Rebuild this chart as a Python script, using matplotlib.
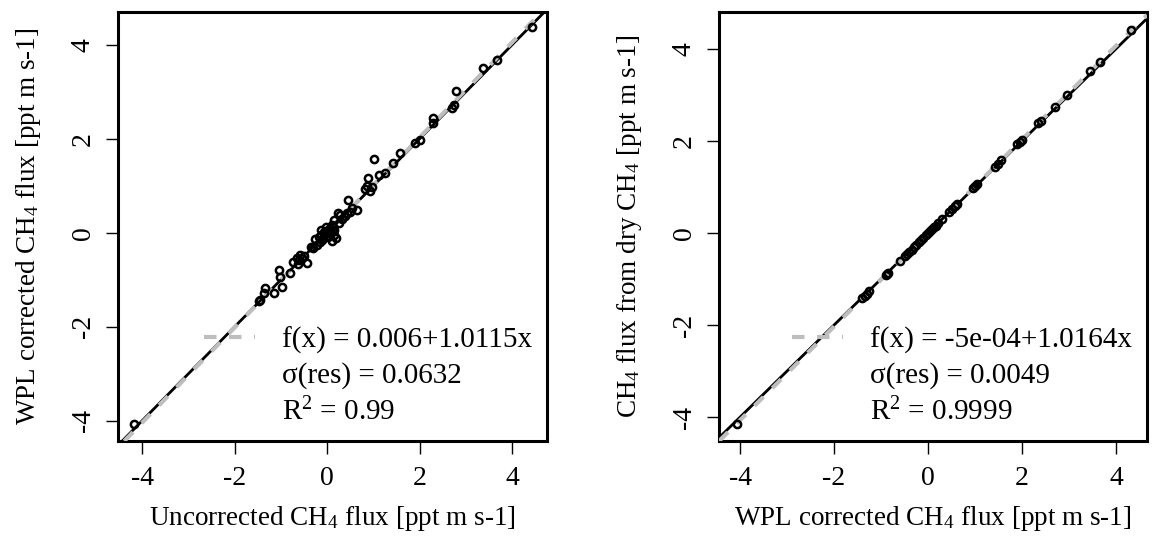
import matplotlib
matplotlib.use('Agg')
import matplotlib.pyplot as plt
from matplotlib.lines import Line2D

plt.rcParams['font.family'] = ['Liberation Serif', 'DejaVu Serif']
plt.rcParams['mathtext.fontset'] = 'custom'
plt.rcParams['mathtext.rm'] = 'Liberation Serif'
plt.rcParams['mathtext.it'] = 'Liberation Serif:italic'
plt.rcParams['mathtext.bf'] = 'Liberation Serif:bold'
plt.rcParams['axes.unicode_minus'] = False

# left panel: uncorrected vs WPL corrected
unc_x = [-4.17, -1.48, -1.45, -1.37, -1.35, -1.15, -0.98, -1.03, -1.02, -0.80,
         -0.74, -0.65, -0.60, -0.58, -0.55, -0.50, -0.43, -0.62, -0.35, -0.30,
         -0.25, -0.22, -0.18, -0.15, -0.12, -0.12, -0.10, -0.09, -0.06, -0.04,
         -0.02, -0.01, 0.00, 0.02, 0.03, 0.05, 0.06, 0.08, 0.10, 0.10,
         0.12, 0.14, 0.16, 0.16, 0.19, 0.23, 0.25, 0.29, 0.33, 0.38,
         0.43, 0.46, 0.50, 0.55, 0.64, 0.83, 0.86, 0.89, 0.92, 0.97,
         1.02, 1.13, 1.25, 1.43, 1.58, 1.90, 2.00, 2.29, 2.30, 2.70,
         2.75, 2.79, 3.37, 3.67, 4.43]
wpl_y = [-4.06, -1.46, -1.43, -1.28, -1.18, -1.28, -1.16, -0.80, -0.93, -0.85,
         -0.61, -0.54, -0.58, -0.47, -0.54, -0.50, -0.64, -0.66, -0.30, -0.32,
         -0.14, -0.25, -0.08, -0.20, -0.04, 0.06, -0.15, -0.11, 0.02, -0.01,
         0.13, -0.06, 0.03, 0.06, -0.08, -0.01, 0.10, 0.02, 0.17, -0.18,
         0.05, -0.04, 0.06, 0.28, -0.11, 0.42, 0.20, 0.37, 0.30, 0.36,
         0.42, 0.70, 0.45, 0.52, 0.49, 0.93, 1.00, 1.16, 0.90, 0.97,
         1.57, 1.24, 1.27, 1.48, 1.71, 1.91, 1.98, 2.44, 2.33, 2.65,
         2.72, 3.01, 3.50, 3.68, 4.38]

# right panel: WPL corrected vs dry CH4
wpl_x = [-4.07, -1.40, -1.35, -1.30, -1.25, -0.90, -0.88, -0.85, -0.60, -0.50,
         -0.45, -0.40, -0.35, -0.30, -0.25, -0.20, -0.15, -0.10, -0.05, 0.00,
         0.04, 0.08, 0.12, 0.16, 0.22, 0.30, 0.45, 0.52, 0.58, 0.62,
         0.95, 1.00, 1.05, 1.42, 1.48, 1.55, 1.90, 1.95, 2.00, 2.35,
         2.40, 2.70, 2.95, 3.45, 3.66, 4.33]
dry_y = [-4.14, -1.42, -1.37, -1.32, -1.27, -0.91, -0.90, -0.86, -0.61, -0.51,
         -0.46, -0.41, -0.36, -0.30, -0.26, -0.20, -0.15, -0.10, -0.05, 0.00,
         0.04, 0.08, 0.12, 0.16, 0.22, 0.30, 0.46, 0.53, 0.59, 0.63,
         0.97, 1.02, 1.07, 1.44, 1.50, 1.58, 1.93, 1.98, 2.03, 2.39,
         2.44, 2.74, 3.00, 3.51, 3.72, 4.40]

fits = [(0.006, 1.0115), (-5e-04, 1.0164)]
fit_text = [['f(x) = 0.006+1.0115x', 'σ(res) = 0.0632', 'R$^2$ = 0.99'],
            ['f(x) = -5e-04+1.0164x', 'σ(res) = 0.0049', 'R$^2$ = 0.9999']]
xlabels = ['Uncorrected CH$_4$ flux [ppt m s-1]', 'WPL corrected CH$_4$ flux [ppt m s-1]']
ylabels = ['WPL corrected CH$_4$ flux [ppt m s-1]', 'CH$_4$ flux from dry CH$_4$ [ppt m s-1]']
ticks = [-4, -2, 0, 2, 4]
xlims = [(-4.52, 4.76), (-4.45, 4.66)]
ylims = [(-4.43, 4.70), (-4.52, 4.80)]

fig = plt.figure(figsize=(11.54, 5.43), dpi=100)
ax1 = fig.add_axes([0.1023, 0.1878, 0.3718, 0.790])
ax2 = fig.add_axes([0.623, 0.1878, 0.3709, 0.790])

grey = '#BEBEBE'
data = [(unc_x, wpl_y), (wpl_x, dry_y)]
for i, ax in enumerate([ax1, ax2]):
    xs, ys = data[i]
    a, b = fits[i]
    # 1:1 line and regression line
    ax.axline((0, 0), slope=1, color='black', lw=2.0, zorder=2)
    ax.axline((0, a), slope=b, color=grey, lw=3.0, ls=(0, (3, 3)), zorder=3)
    ax.plot(xs, ys, 'o', mfc='none', mec='black', ms=5.2, mew=1.8, zorder=4)
    ax.set_xlim(*xlims[i])
    ax.set_ylim(*ylims[i])
    ax.set_xticks(ticks)
    ax.set_yticks(ticks)
    ax.tick_params(labelsize=20, length=9, width=1.0)
    ax.tick_params(axis='x', pad=9)
    ax.tick_params(axis='y', pad=7)
    for lab in ax.get_yticklabels():
        lab.set_rotation(90)
        lab.set_va('center')
    for s in ax.spines.values():
        s.set_linewidth(2.2)
    ax.set_xlabel(xlabels[i], fontsize=19.5, labelpad=9)
    ax.set_ylabel(ylabels[i], fontsize=19.5, labelpad=20)

    handles = [Line2D([], [], color=grey, lw=3.0, ls=(0, (3, 3))),
               Line2D([], [], ls='none'), Line2D([], [], ls='none')]
    ax.legend(handles, fit_text[i], loc='lower right', frameon=False, fontsize=21,
              handlelength=1.75, handletextpad=0.95, labelspacing=0.3,
              borderaxespad=0.1, borderpad=0.4)

plt.savefig('out.png', dpi=100)
